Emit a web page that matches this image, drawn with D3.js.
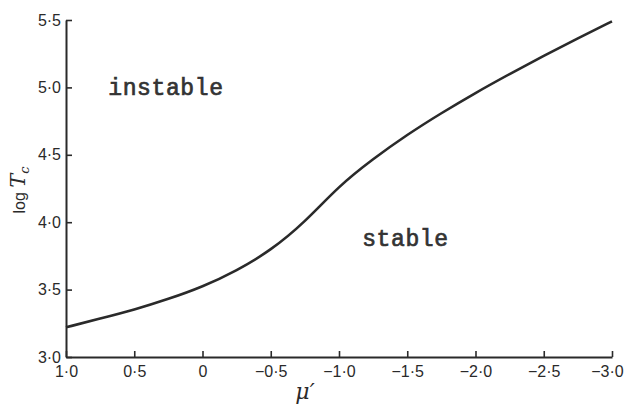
<!DOCTYPE html>
<html><head><meta charset="utf-8">
<script src="https://cdn.jsdelivr.net/npm/d3@7"></script>
<style>body{margin:0;background:#fff}</style>
</head><body>
<svg id="c" width="624" height="406"></svg>
<script>
const mu = [1.0, 0.75, 0.5, 0.25, 0, -0.25, -0.5, -0.75, -1.0, -1.25, -1.5, -1.75, -2.0, -2.25, -2.5, -2.75, -3.0];
const logTc = [3.22, 3.285, 3.35, 3.43, 3.52, 3.64, 3.79, 4.00, 4.27, 4.47, 4.65, 4.81, 4.96, 5.10, 5.235, 5.365, 5.49];
const xTicks = [1.0, 0.5, 0, -0.5, -1.0, -1.5, -2.0, -2.5, -3.0];
const yTicks = [3.0, 3.5, 4.0, 4.5, 5.0, 5.5];
const regionLabels = [{text: "instable", mu: 0.69, v: 5.0}, {text: "stable", mu: -1.17, v: 3.88}];

const fmt = v => (v < 0 ? "\u2212" : "") + (v === 0 ? "0" : Math.abs(v).toFixed(1).replace(".", "\u00b7"));

const svg = d3.select("#c");
const x = d3.scaleLinear().domain([1.0, -3.0]).range([66, 612]);
const y = d3.scaleLinear().domain([3.0, 5.5]).range([357, 20]);
const ink = "#2a2a2a";

const xAxis = svg.append("g").attr("transform", "translate(0,357)")
  .call(d3.axisBottom(x).tickValues(xTicks).tickFormat(fmt).tickSizeInner(-6).tickSizeOuter(0).tickPadding(9));
const yAxis = svg.append("g").attr("transform", "translate(66,0)")
  .call(d3.axisLeft(y).tickValues(yTicks).tickFormat(fmt).tickSizeInner(-6).tickSizeOuter(0).tickPadding(5));
[xAxis, yAxis].forEach(g => {
  g.select(".domain").attr("stroke", ink).attr("stroke-width", 2);
  g.selectAll(".tick line").attr("stroke", ink).attr("stroke-width", 1.6);
  g.selectAll(".tick text").attr("fill", ink).attr("font-family", "Liberation Sans, Arial, sans-serif").attr("font-size", 16);
});
xAxis.selectAll(".tick text").filter(d => d === -3.0).attr("dx", -5);

svg.append("path").datum(mu.map((m, i) => [m, logTc[i]]))
  .attr("fill", "none").attr("stroke", ink).attr("stroke-width", 2.6)
  .attr("d", d3.line().x(d => x(d[0])).y(d => y(d[1])).curve(d3.curveBasis));

svg.selectAll("text.reg").data(regionLabels).join("text").attr("class", "reg")
  .attr("x", d => x(d.mu)).attr("y", d => y(d.v))
  .attr("font-family", "Liberation Mono, Courier New, monospace")
  .attr("font-size", 23).attr("letter-spacing", 0.6).attr("fill", "#333")
  .attr("stroke", "#333").attr("stroke-width", 0.7)
  .attr("dy", "0.32em")
  .text(d => d.text);

// x axis title
svg.append("text").attr("x", 305).attr("y", 399).attr("text-anchor", "middle")
  .attr("font-family", "DejaVu Serif, serif").attr("font-style", "italic").attr("font-size", 22).attr("fill", ink)
  .text("\u03bc\u2032");

// y axis title
const yt = svg.append("text").attr("transform", "translate(25,190) rotate(-90)").attr("text-anchor", "middle")
  .attr("fill", ink);
yt.append("tspan").attr("font-family", "Liberation Sans, Arial, sans-serif").attr("font-size", 16).text("log ");
yt.append("tspan").attr("font-family", "DejaVu Serif, serif").attr("font-style", "italic").attr("font-size", 21).text("T");
yt.append("tspan").attr("font-family", "DejaVu Serif, serif").attr("font-style", "italic").attr("font-size", 13).attr("dy", 4).text("c");
</script>
</body></html>
